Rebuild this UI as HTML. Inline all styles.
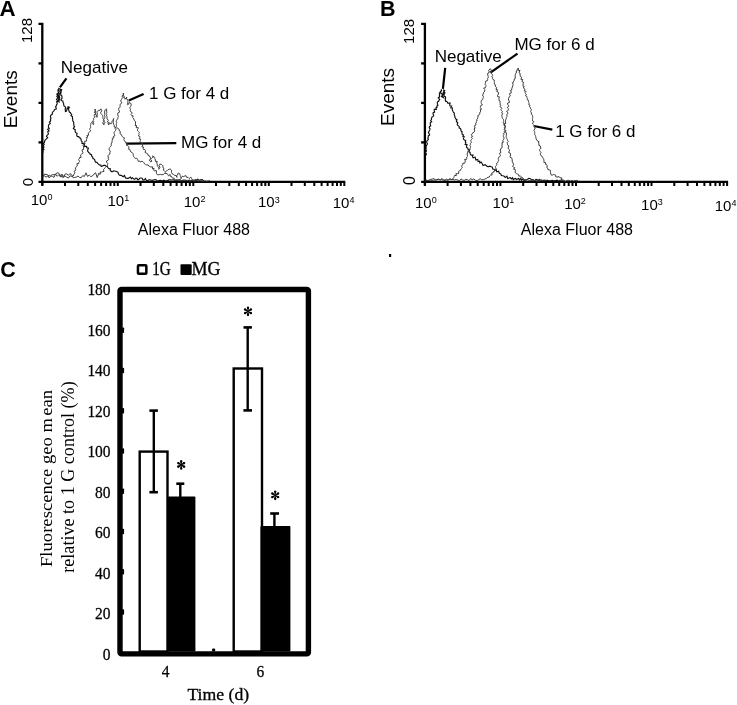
<!DOCTYPE html>
<html><head><meta charset="utf-8"><style>
html,body{margin:0;padding:0;background:#fff;}
body{width:737px;height:705px;overflow:hidden;}
svg{display:block;will-change:transform;}
.ax{stroke:#000;stroke-width:2.3;fill:none;stroke-linecap:butt;}
.tk{stroke:#000;stroke-width:2;fill:none;}
.cv{stroke:#3c3c3c;stroke-width:1;fill:none;stroke-linejoin:miter;}
.ld{stroke:#000;stroke-width:2.2;fill:none;}
text{font-family:"Liberation Sans",sans-serif;fill:#000;}
.tl{font-size:15px;}
.lb{font-size:16px;}
.an{font-size:17px;}
.ev{font-size:19px;}
.pl{font-size:21px;font-weight:bold;}
.sl{font-family:"Liberation Serif",serif;font-size:15.5px;stroke:#000;stroke-width:0.25px;}
.xl{font-family:"Liberation Serif",serif;font-size:17.2px;stroke:#000;stroke-width:0.3px;}
.lg{font-family:"Liberation Serif",serif;font-size:18px;stroke:#000;stroke-width:0.3px;}
.yl{font-family:"Liberation Serif",serif;font-size:18.5px;}
.ast{font-family:"Liberation Serif",serif;font-size:19px;}
</style></head><body>
<svg width="737" height="705" viewBox="0 0 737 705">
<rect width="737" height="705" fill="#fff"/>
<!-- Panel A -->
<text x="-0.4" y="15.9" class="pl" style="font-size:22.3px">A</text>
<text transform="translate(32.3,30.5) rotate(-90)" class="tl" text-anchor="middle">128</text>
<text transform="translate(33.4,182.2) rotate(-90)" class="tl" text-anchor="middle">0</text>
<text transform="translate(17.2,99.3) rotate(-90)" class="ev" text-anchor="middle">Events</text>
<text x="193.9" y="235.1" class="lb" text-anchor="middle">Alexa Fluor 488</text>
<text x="60.8" y="73.3" class="an">Negative</text>
<text x="149" y="98.9" class="an">1 G for 4 d</text>
<text x="181" y="147.8" class="an">MG for 4 d</text>
<path d="M59.9,87.4 L66.4,78.3" class="ld"/>
<path d="M128.8,100.6 L143.6,94" class="ld"/>
<path d="M126,143.6 L176.3,143.1" class="ld"/>
<!-- Panel B -->
<text x="379.9" y="15.9" class="pl" style="font-size:21.5px">B</text>
<text transform="translate(414.3,31.4) rotate(-90)" class="tl" text-anchor="middle">128</text>
<text transform="translate(414.5,180.5) rotate(-90)" class="tl" style="font-size:15.8px" text-anchor="middle">0</text>
<text transform="translate(394.2,97) rotate(-90)" class="ev" text-anchor="middle">Events</text>
<text x="576.9" y="235" class="lb" text-anchor="middle">Alexa Fluor 488</text>
<text x="434.7" y="61.7" class="an">Negative</text>
<text x="514.4" y="49.9" class="an">MG for 6 d</text>
<text x="555.2" y="137.1" class="an">1 G for 6 d</text>
<path d="M445.2,67.8 L442.9,88.8" class="ld"/>
<path d="M490.4,72.6 L517.5,53.6" class="ld"/>
<path d="M533.7,126 L552.3,129.7" class="ld"/>
<rect x="389" y="254" width="2.2" height="3" fill="#000"/>
<path d="M38.5,23.9 H42.3 V185.5" class="ax"/>
<path d="M38.5,63.4 H42.3" class="ax"/>
<path d="M38.5,102.9 H42.3" class="ax"/>
<path d="M38.5,142.4 H42.3" class="ax"/>
<path d="M38.5,181.9 H345.3" class="ax"/>
<path d="M42.3,181.9 V186" class="tk"/>
<path d="M65.0,181.9 V186" class="tk"/>
<path d="M78.3,181.9 V186" class="tk"/>
<path d="M87.8,181.9 V186" class="tk"/>
<path d="M95.1,181.9 V186" class="tk"/>
<path d="M101.1,181.9 V186" class="tk"/>
<path d="M106.1,181.9 V186" class="tk"/>
<path d="M110.5,181.9 V186" class="tk"/>
<path d="M114.3,181.9 V186" class="tk"/>
<path d="M117.8,181.9 V186" class="tk"/>
<path d="M140.5,181.9 V186" class="tk"/>
<path d="M153.8,181.9 V186" class="tk"/>
<path d="M163.3,181.9 V186" class="tk"/>
<path d="M170.6,181.9 V186" class="tk"/>
<path d="M176.6,181.9 V186" class="tk"/>
<path d="M181.6,181.9 V186" class="tk"/>
<path d="M186.0,181.9 V186" class="tk"/>
<path d="M189.8,181.9 V186" class="tk"/>
<path d="M193.3,181.9 V186" class="tk"/>
<path d="M216.0,181.9 V186" class="tk"/>
<path d="M229.3,181.9 V186" class="tk"/>
<path d="M238.8,181.9 V186" class="tk"/>
<path d="M246.1,181.9 V186" class="tk"/>
<path d="M252.1,181.9 V186" class="tk"/>
<path d="M257.1,181.9 V186" class="tk"/>
<path d="M261.5,181.9 V186" class="tk"/>
<path d="M265.3,181.9 V186" class="tk"/>
<path d="M268.8,181.9 V186" class="tk"/>
<path d="M291.5,181.9 V186" class="tk"/>
<path d="M304.8,181.9 V186" class="tk"/>
<path d="M314.3,181.9 V186" class="tk"/>
<path d="M321.6,181.9 V186" class="tk"/>
<path d="M327.6,181.9 V186" class="tk"/>
<path d="M332.6,181.9 V186" class="tk"/>
<path d="M337.0,181.9 V186" class="tk"/>
<path d="M340.8,181.9 V186" class="tk"/>
<path d="M344.3,181.9 V186" class="tk"/>
<path d="M421.1,23.9 H424.9 V185.5" class="ax"/>
<path d="M421.1,63.4 H424.9" class="ax"/>
<path d="M421.1,102.9 H424.9" class="ax"/>
<path d="M421.1,142.4 H424.9" class="ax"/>
<path d="M421.1,181.9 H728.1" class="ax"/>
<path d="M424.9,181.9 V186" class="tk"/>
<path d="M447.6,181.9 V186" class="tk"/>
<path d="M460.9,181.9 V186" class="tk"/>
<path d="M470.4,181.9 V186" class="tk"/>
<path d="M477.7,181.9 V186" class="tk"/>
<path d="M483.7,181.9 V186" class="tk"/>
<path d="M488.7,181.9 V186" class="tk"/>
<path d="M493.1,181.9 V186" class="tk"/>
<path d="M497.0,181.9 V186" class="tk"/>
<path d="M500.4,181.9 V186" class="tk"/>
<path d="M523.2,181.9 V186" class="tk"/>
<path d="M536.5,181.9 V186" class="tk"/>
<path d="M545.9,181.9 V186" class="tk"/>
<path d="M553.3,181.9 V186" class="tk"/>
<path d="M559.2,181.9 V186" class="tk"/>
<path d="M564.3,181.9 V186" class="tk"/>
<path d="M568.7,181.9 V186" class="tk"/>
<path d="M572.5,181.9 V186" class="tk"/>
<path d="M576.0,181.9 V186" class="tk"/>
<path d="M598.7,181.9 V186" class="tk"/>
<path d="M612.0,181.9 V186" class="tk"/>
<path d="M621.5,181.9 V186" class="tk"/>
<path d="M628.8,181.9 V186" class="tk"/>
<path d="M634.8,181.9 V186" class="tk"/>
<path d="M639.8,181.9 V186" class="tk"/>
<path d="M644.2,181.9 V186" class="tk"/>
<path d="M648.1,181.9 V186" class="tk"/>
<path d="M651.5,181.9 V186" class="tk"/>
<path d="M674.3,181.9 V186" class="tk"/>
<path d="M687.6,181.9 V186" class="tk"/>
<path d="M697.0,181.9 V186" class="tk"/>
<path d="M704.4,181.9 V186" class="tk"/>
<path d="M710.3,181.9 V186" class="tk"/>
<path d="M715.4,181.9 V186" class="tk"/>
<path d="M719.8,181.9 V186" class="tk"/>
<path d="M723.6,181.9 V186" class="tk"/>
<path d="M727.1,181.9 V186" class="tk"/>
<text x="41.6" y="205.0" class="tl" text-anchor="middle">10<tspan dy="-4.8" font-size="9px">0</tspan></text>
<text x="118.3" y="205.5" class="tl" text-anchor="middle">10<tspan dy="-4.8" font-size="9px">1</tspan></text>
<text x="194.6" y="206.6" class="tl" text-anchor="middle">10<tspan dy="-4.8" font-size="9px">2</tspan></text>
<text x="268.8" y="207.4" class="tl" text-anchor="middle">10<tspan dy="-4.8" font-size="9px">3</tspan></text>
<text x="343.6" y="207.9" class="tl" text-anchor="middle">10<tspan dy="-4.8" font-size="9px">4</tspan></text>
<text x="425.8" y="207.7" class="tl" text-anchor="middle">10<tspan dy="-4.8" font-size="9px">0</tspan></text>
<text x="503.4" y="208.1" class="tl" text-anchor="middle">10<tspan dy="-4.8" font-size="9px">1</tspan></text>
<text x="575.0" y="208.9" class="tl" text-anchor="middle">10<tspan dy="-4.8" font-size="9px">2</tspan></text>
<text x="651.9" y="210.0" class="tl" text-anchor="middle">10<tspan dy="-4.8" font-size="9px">3</tspan></text>
<text x="725.6" y="210.5" class="tl" text-anchor="middle">10<tspan dy="-4.8" font-size="9px">4</tspan></text>
<path d="M42.8,153.0 L43.0,151.4 L42.8,150.4 L43.9,149.5 L42.9,148.4 L43.9,147.5 L43.7,146.5 L43.3,145.4 L44.2,144.5 L43.5,143.4 L44.4,142.4 L44.9,140.3 L45.9,139.4 L46.7,138.6 L47.7,137.7 L46.5,136.5 L46.8,135.5 L47.8,134.7 L48.5,133.8 L48.0,132.6 L47.8,131.6 L49.1,130.8 L47.6,129.3 L49.3,128.7 L48.5,127.4 L48.4,126.3 L48.6,125.2 L49.2,124.3 L50.3,123.5 L49.4,122.1 L50.3,121.3 L50.7,120.3 L50.4,119.1 L51.0,118.2 L50.4,116.8 L50.6,115.8 L51.2,114.9 L52.3,114.2 L52.3,113.0 L52.6,112.0 L53.5,111.4 L54.1,110.5 L54.6,109.4 L56.2,109.1 L56.2,108.1 L55.5,106.8 L56.3,106.0 L56.4,104.9 L57.2,104.0 L57.2,102.9 L56.5,101.7 L58.0,100.9 L56.5,99.6 L57.1,98.6 L57.9,97.6 L56.8,96.4 L57.6,95.4 L56.8,94.2 L58.1,93.3 L58.4,92.2 L58.1,91.1 L58.8,90.1 L58.6,88.9 L57.9,90.0 L58.1,91.0 L58.2,92.0 L58.5,93.0 L57.9,94.1 L57.7,95.1 L58.7,96.1 L58.4,97.2 L59.6,98.1 L58.4,99.2 L58.6,100.3 L58.0,101.3 L59.6,102.4 L58.7,101.2 L59.1,100.2 L59.7,99.3 L58.6,98.0 L59.6,97.1 L59.2,96.0 L59.2,95.0 L59.3,93.9 L60.8,93.1 L59.7,91.9 L60.0,90.9 L60.5,89.9 L60.1,89.0 L61.7,89.8 L61.1,90.9 L61.1,92.0 L60.5,93.1 L60.8,94.1 L60.8,95.2 L62.0,96.1 L61.9,97.1 L62.1,98.1 L61.2,99.3 L61.2,100.4 L62.9,101.2 L62.9,101.9 L63.2,102.9 L63.7,103.8 L63.7,105.0 L64.0,106.0 L65.1,106.7 L65.7,107.7 L65.1,109.0 L65.4,110.1 L65.4,111.4 L66.6,111.0 L66.8,109.8 L67.1,108.6 L67.9,107.9 L68.0,106.9 L69.4,107.4 L68.2,109.1 L68.8,110.0 L69.0,111.0 L69.4,112.0 L70.5,112.7 L70.8,113.6 L71.7,114.4 L71.0,115.8 L72.3,116.5 L72.5,117.6 L72.5,118.7 L72.8,119.7 L72.7,120.8 L73.4,121.7 L73.7,122.7 L73.7,123.8 L74.0,124.8 L73.8,125.9 L74.6,126.8 L73.3,128.3 L74.0,129.1 L75.2,129.9 L75.2,130.9 L75.2,131.9 L75.9,132.8 L77.0,133.3 L76.7,135.3 L77.2,136.5 L78.8,136.6 L79.3,137.7 L80.6,138.3 L81.1,139.5 L81.2,140.8 L82.1,141.7 L82.0,143.5 L83.7,143.4 L84.6,143.9 L84.0,146.3 L85.4,146.3 L86.6,146.4 L86.8,147.8 L88.4,148.1 L87.9,149.5 L87.5,150.9 L88.2,151.8 L88.9,152.7 L90.0,153.3 L90.1,154.2 L91.5,154.6 L91.7,156.3 L92.7,157.1 L92.9,158.5 L94.2,159.1 L94.7,159.8 L95.2,161.6 L96.0,162.4 L96.9,162.4 L97.7,163.3 L98.5,164.2 L99.3,165.0 L100.8,165.1 L101.2,166.4 L102.4,166.1 L103.7,165.3 L105.2,165.3 L106.2,166.3 L107.3,166.6 L108.2,168.0 L108.8,168.7 L110.2,168.6 L110.2,170.1 L110.9,171.0 L112.0,171.9 L113.5,170.9 L114.7,171.0 L115.8,171.3 L117.1,171.7 L118.0,172.3 L118.5,173.7 L119.1,174.9 L120.0,175.4 L121.3,175.3 L122.2,176.0 L123.1,176.7 L124.5,175.5 L125.1,177.2 L125.9,178.1 L127.1,178.3 L128.2,178.3 L129.3,177.7 L130.5,177.1 L131.4,178.7 L132.6,177.7 L133.6,178.9 L134.6,179.4 L135.8,178.2 L136.8,178.3 L137.8,179.7 L138.9,179.2 L140.0,178.0 L141.1,178.0 L142.2,178.2 L143.1,180.1 L144.2,180.0 L145.4,178.5 L146.3,180.2 L147.4,180.7 L148.5,180.1 L149.6,179.8 L151.0,180.1 L152.6,180.4 L154.2,179.7 L155.8,179.5 L157.4,181.2 L159.0,180.6 L160.6,180.4 L162.2,181.1 L163.8,180.2 L165.4,181.0 L167.0,180.9 L168.6,179.9 L170.2,179.9 L171.8,180.0 L173.4,179.9 L175.0,180.5 L176.6,179.9 L178.2,180.2 L179.8,179.7 L181.4,181.0 L183.0,180.1 L184.6,180.3 L186.2,180.5 L187.8,181.0 L189.4,180.2 L191.0,181.1 L192.6,180.4 L194.2,180.4 L195.8,180.4 L197.4,179.5 L199.0,180.2 L200.6,179.8 L202.2,179.5 L203.8,180.9" class="cv" style="stroke:#111;stroke-width:1.15"/>
<path d="M42.8,174.4 L44.4,175.9 L46.0,177.1 L47.6,176.3 L49.2,175.1 L50.8,176.1 L52.4,176.3 L54.0,177.4 L55.6,174.0 L57.2,176.3 L58.8,174.7 L60.4,174.9 L62.0,177.4 L63.6,176.0 L65.2,176.3 L66.8,177.3 L68.4,178.1 L70.0,175.7 L71.6,176.6 L73.2,176.0 L74.2,173.8 L75.0,172.9 L74.1,171.2 L75.5,170.5 L75.7,169.3 L75.3,167.9 L76.2,167.1 L77.1,166.3 L77.3,165.1 L76.8,163.7 L78.8,163.4 L78.8,162.3 L79.6,161.5 L78.6,159.6 L79.3,158.8 L79.4,157.6 L81.2,157.3 L80.6,155.9 L80.7,154.9 L81.5,154.1 L82.7,153.5 L82.9,152.4 L82.1,151.0 L82.1,149.9 L83.8,149.3 L83.4,148.1 L83.9,147.1 L83.0,145.7 L83.2,144.5 L84.8,144.0 L84.7,142.7 L84.6,141.3 L86.5,141.1 L86.4,139.7 L87.1,138.9 L86.2,137.4 L87.9,137.1 L86.9,135.5 L88.7,135.2 L88.3,133.9 L88.4,132.9 L89.2,132.2 L90.8,130.8 L89.8,129.5 L89.8,128.4 L90.8,127.6 L90.5,126.5 L90.5,125.4 L90.8,124.5 L90.9,123.4 L91.4,122.5 L92.5,121.5 L93.0,122.5 L92.8,124.0 L93.3,124.7 L93.8,123.7 L93.3,122.5 L93.7,121.5 L93.2,120.4 L93.7,119.4 L93.4,118.3 L94.8,117.4 L94.6,116.3 L94.0,115.2 L94.7,114.2 L95.6,113.3 L94.1,112.1 L95.6,111.2 L95.0,110.0 L95.2,109.0 L94.8,110.2 L95.8,111.0 L95.7,112.1 L95.6,113.2 L95.2,114.3 L96.6,115.1 L95.9,116.3 L97.1,117.3 L97.3,116.3 L97.1,115.1 L97.3,114.0 L97.1,112.7 L97.6,111.5 L98.3,110.4 L100.0,110.3 L100.9,108.8 L101.3,109.8 L101.8,110.8 L100.7,112.4 L100.9,113.5 L101.6,114.4 L102.5,115.2 L102.8,116.3 L102.9,117.3 L102.9,118.4 L103.6,119.3 L103.3,120.5 L103.9,121.5 L102.8,122.8 L103.0,123.9 L104.2,124.7 L103.7,123.6 L105.2,122.7 L104.0,121.5 L104.2,120.5 L103.6,119.4 L104.5,118.4 L104.8,117.4 L104.9,116.3 L104.4,115.2 L105.1,114.2 L104.3,113.1 L104.8,112.1 L104.6,111.0 L105.3,110.0 L106.5,108.8 L106.7,109.9 L106.5,111.1 L106.9,112.2 L106.4,113.5 L106.8,114.6 L106.6,115.8 L107.0,116.8 L107.0,117.8 L106.9,118.8 L108.0,119.7 L108.3,120.6 L107.2,121.9 L108.9,122.6 L108.0,123.8 L108.8,125.0 L109.2,123.0 L111.4,123.6 L111.9,122.7 L111.9,121.5 L112.6,120.8 L113.2,119.9 L113.8,118.5 L113.3,119.8 L113.5,120.8 L113.1,122.1 L113.4,123.1 L113.6,124.2 L114.2,125.2 L114.2,127.0 L115.5,127.3 L116.5,128.0 L117.8,128.2 L118.7,128.8 L119.2,129.8 L119.4,131.0 L120.4,131.6 L119.9,133.4 L120.9,134.0 L121.4,135.0 L122.0,135.9 L122.5,136.8 L123.3,137.5 L124.6,137.9 L123.7,139.7 L124.2,140.6 L125.1,141.2 L125.5,142.2 L125.8,143.2 L127.2,143.5 L126.6,145.3 L127.9,145.7 L128.7,146.5 L128.9,147.7 L128.6,149.2 L129.8,149.4 L130.3,151.2 L130.9,152.0 L132.2,152.5 L132.9,153.3 L133.2,154.4 L133.4,155.6 L133.7,156.7 L134.5,157.6 L135.2,158.4 L136.7,158.2 L137.4,159.1 L137.8,159.9 L138.4,161.4 L139.8,161.0 L140.6,162.1 L141.9,161.2 L142.9,161.6 L143.8,162.5 L144.5,163.9 L145.6,164.5 L146.7,165.0 L148.1,164.9 L148.7,166.0 L149.7,166.5 L150.9,167.0 L152.6,166.8 L152.4,168.9 L154.1,168.2 L153.7,170.0 L154.4,170.9 L156.5,170.7 L156.4,172.2 L156.6,173.8 L157.6,174.9 L159.2,174.6 L160.5,174.4 L161.2,174.6 L163.2,174.7 L165.2,172.6 L165.8,173.9 L167.0,173.4 L167.8,174.6 L168.5,175.8 L170.1,174.4 L170.3,176.4 L171.6,176.4 L171.9,177.6 L172.8,178.1 L174.2,178.2 L174.0,180.2 L175.4,179.9 L176.3,180.4 L177.5,180.0 L179.1,180.0 L180.7,180.6 L182.3,180.6 L183.9,180.4 L185.5,180.2 L187.1,180.4 L188.7,180.4 L190.3,181.1 L191.9,180.0 L193.5,181.0 L195.1,181.1 L196.7,180.2 L198.3,181.2 L199.9,180.9" class="cv"/>
<path d="M42.8,177.5 L44.4,174.1 L46.0,174.5 L47.6,174.7 L49.2,178.0 L50.8,175.7 L52.4,174.5 L54.0,174.9 L55.6,174.0 L57.2,172.8 L58.8,173.1 L60.4,177.1 L62.0,174.1 L63.6,177.6 L65.2,173.9 L66.8,174.0 L68.4,175.3 L70.0,173.5 L71.6,174.6 L73.2,177.8 L74.8,177.4 L76.4,177.0 L78.0,176.0 L79.6,177.5 L81.2,177.7 L82.8,175.5 L84.4,176.5 L86.0,172.8 L87.6,176.5 L89.2,175.0 L90.8,176.6 L92.4,176.0 L94.0,174.1 L95.6,172.8 L97.2,177.6 L98.8,173.2 L98.9,173.8 L100.3,174.2 L100.3,171.9 L101.6,172.1 L102.6,171.7 L104.0,171.4 L103.5,169.6 L104.2,168.8 L104.8,167.9 L105.6,167.2 L106.3,166.4 L107.5,165.6 L107.5,164.5 L107.8,163.5 L106.4,162.0 L106.6,161.0 L108.1,160.3 L108.7,159.3 L108.1,158.1 L108.5,157.1 L107.7,155.8 L108.6,155.0 L109.8,154.2 L109.8,153.1 L110.0,152.2 L110.4,151.2 L109.2,149.9 L109.1,148.8 L109.4,147.9 L110.3,147.0 L110.8,146.1 L111.5,145.2 L111.2,144.2 L111.5,143.1 L112.1,142.1 L112.0,140.8 L112.6,139.8 L112.1,138.3 L113.9,137.9 L113.3,136.4 L114.8,135.9 L114.6,134.7 L114.2,133.5 L114.1,132.4 L114.6,131.5 L115.6,130.7 L116.0,129.8 L115.1,128.5 L115.3,127.6 L116.3,126.7 L116.5,125.6 L116.3,124.5 L116.1,123.4 L117.0,122.5 L116.0,121.2 L116.7,120.3 L117.1,119.3 L118.2,118.4 L117.8,117.3 L118.4,116.4 L117.9,115.1 L117.7,113.9 L117.9,112.9 L119.5,112.2 L119.3,111.1 L118.7,109.8 L118.4,108.6 L119.6,107.8 L120.1,106.9 L120.0,105.7 L120.0,104.5 L121.1,103.7 L121.8,102.9 L120.9,101.3 L120.8,100.1 L121.7,99.3 L122.0,98.3 L122.7,97.4 L121.9,96.1 L123.2,95.3 L123.3,94.2 L123.0,93.1 L123.9,93.9 L122.8,95.5 L124.3,96.1 L123.7,97.5 L125.2,98.2 L124.6,99.0 L126.2,98.6 L126.9,97.0 L125.9,98.4 L127.0,99.1 L127.8,100.0 L128.0,101.1 L127.8,102.2 L127.6,103.3 L127.3,104.5 L127.8,104.9 L128.7,104.2 L128.9,103.0 L129.0,102.5 L130.7,103.2 L131.1,104.1 L131.2,105.1 L130.7,106.3 L129.9,107.4 L130.1,108.4 L130.5,109.4 L130.2,110.5 L130.4,111.5 L131.7,112.2 L132.1,113.2 L130.9,114.7 L131.6,115.5 L133.3,115.9 L132.5,117.4 L133.4,118.1 L133.8,119.1 L134.2,120.1 L134.9,120.9 L135.6,121.8 L135.4,123.0 L135.7,124.1 L135.0,125.6 L136.7,125.6 L136.2,127.7 L138.2,127.6 L138.1,128.6 L137.4,129.8 L137.6,130.8 L138.5,131.6 L139.4,132.5 L138.8,133.6 L139.2,134.6 L138.3,135.8 L139.9,136.5 L139.8,137.6 L139.0,138.8 L140.7,139.2 L140.4,140.5 L140.1,141.8 L140.5,142.8 L142.2,143.1 L142.6,144.1 L142.8,145.0 L141.9,146.9 L143.5,147.0 L143.2,148.4 L143.4,149.5 L144.9,149.7 L145.5,150.5 L145.1,152.5 L146.4,153.1 L147.6,153.6 L148.0,155.4 L149.6,156.0 L150.0,157.1 L150.8,158.1 L149.7,159.7 L149.6,160.9 L150.9,161.9 L151.9,161.2 L150.6,159.3 L151.4,158.5 L152.3,157.6 L153.5,157.0 L152.3,156.1 L153.9,156.5 L154.7,157.5 L154.9,158.7 L155.4,159.9 L155.3,161.4 L157.2,161.4 L156.7,163.0 L157.2,164.1 L157.3,165.2 L157.7,166.3 L158.4,167.3 L159.2,168.2 L158.9,169.3 L159.1,168.2 L160.1,167.2 L159.0,165.8 L159.4,164.7 L159.8,164.1 L161.3,164.3 L162.3,165.0 L163.0,165.9 L162.9,167.6 L163.9,168.2 L163.5,170.1 L164.7,171.3 L165.6,171.8 L167.0,170.5 L167.2,170.7 L168.0,169.7 L169.4,169.4 L169.8,168.7 L170.7,169.4 L171.4,170.1 L171.5,171.2 L171.5,172.4 L172.0,173.6 L173.1,174.2 L173.8,174.7 L174.8,175.4 L176.3,175.6 L176.9,177.4 L176.6,175.7 L177.6,175.0 L177.9,173.7 L178.3,173.0 L179.6,173.6 L179.9,174.7 L180.3,175.7 L180.8,176.7 L181.0,178.7 L181.5,177.6 L182.1,176.5 L183.0,176.0 L183.6,176.7 L184.9,175.9 L186.0,175.7 L186.6,177.3 L188.1,177.4 L189.2,178.6 L190.9,177.1 L191.5,178.4 L192.2,179.6 L193.2,180.2 L194.1,180.7 L195.6,179.0 L196.2,179.9 L197.2,179.3 L198.4,179.2 L199.0,180.6 L201.0,180.8 L202.0,181.0 L203.6,181.2 L205.2,180.8 L206.8,181.2 L208.4,180.9 L210.0,180.7" class="cv"/>
<path d="M425.3,156.0 L426.0,155.0 L426.5,154.0 L425.1,152.6 L426.2,151.6 L426.4,150.6 L425.8,149.5 L426.2,148.6 L425.9,147.5 L426.2,146.5 L426.4,145.5 L427.2,144.6 L427.4,143.7 L426.7,142.4 L426.7,141.2 L427.5,140.3 L428.4,139.4 L427.8,138.0 L428.3,137.0 L428.3,135.9 L429.6,135.1 L429.3,134.0 L428.5,132.8 L428.7,131.8 L429.4,130.8 L429.8,129.9 L430.1,128.9 L429.2,127.7 L429.5,126.7 L430.7,125.8 L430.3,124.7 L430.2,123.6 L430.4,122.6 L431.7,121.8 L430.7,120.5 L431.5,119.5 L431.5,118.3 L431.9,117.2 L433.1,116.4 L433.7,115.5 L433.0,113.8 L433.2,112.6 L434.6,112.1 L434.2,110.5 L434.3,109.3 L436.3,109.3 L435.9,107.9 L437.1,107.3 L436.7,106.0 L437.9,105.4 L437.5,104.1 L437.3,103.0 L437.4,102.1 L438.6,101.3 L439.0,100.3 L439.7,99.3 L438.3,97.9 L439.5,97.1 L439.3,95.9 L439.7,94.9 L439.3,93.7 L439.7,92.7 L440.4,91.7 L441.4,90.9 L441.5,89.4 L441.1,90.7 L440.7,92.0 L440.7,93.2 L442.3,93.9 L442.7,95.0 L441.4,96.5 L443.4,97.6 L442.7,96.3 L442.1,95.0 L443.9,94.2 L443.1,92.9 L444.3,92.0 L443.9,90.8 L443.3,89.7 L444.7,90.6 L443.6,91.8 L444.9,92.7 L444.6,93.8 L443.9,95.0 L444.1,96.1 L445.5,96.9 L445.6,98.0 L445.4,99.1 L445.3,100.2 L445.7,101.2 L445.3,101.5 L446.4,101.3 L447.2,101.9 L447.8,103.1 L450.1,103.0 L449.7,104.5 L449.9,105.7 L451.6,105.9 L450.7,107.8 L452.5,108.0 L452.2,109.7 L452.8,110.9 L453.3,112.1 L454.2,112.9 L454.3,114.0 L454.3,115.2 L454.9,116.1 L454.8,117.3 L455.5,118.2 L455.9,119.1 L457.0,119.7 L456.3,121.2 L456.9,122.0 L457.8,122.8 L457.2,124.2 L457.5,125.2 L458.5,125.9 L459.3,126.7 L459.1,127.9 L460.4,128.5 L460.9,129.5 L461.0,130.9 L462.1,131.7 L461.9,133.1 L462.2,134.2 L463.5,134.9 L462.8,136.4 L464.2,136.8 L463.4,138.3 L463.6,139.3 L464.5,140.0 L465.7,140.6 L465.3,142.0 L465.9,142.9 L465.2,144.4 L467.0,144.6 L466.4,146.4 L466.8,147.6 L467.8,148.2 L468.1,149.4 L469.7,149.9 L468.8,151.8 L470.1,152.4 L470.3,154.2 L471.2,155.1 L473.0,155.0 L472.6,156.7 L473.1,157.9 L475.1,157.2 L475.5,158.5 L475.9,160.0 L477.7,159.5 L478.1,161.6 L479.7,161.2 L479.8,162.9 L481.4,162.3 L482.2,163.8 L483.1,165.5 L485.0,164.7 L486.2,165.5 L487.2,166.5 L488.5,166.6 L489.9,166.2 L491.2,166.8 L492.3,167.1 L492.8,169.0 L494.0,169.3 L494.6,170.5 L496.3,169.8 L496.8,171.8 L498.7,171.2 L499.0,172.7 L499.6,173.5 L500.7,173.7 L501.4,175.5 L503.0,175.7 L504.2,176.2 L505.2,177.4 L506.9,176.1 L507.7,178.5 L509.1,178.0 L510.4,177.7 L511.3,178.9 L512.5,177.8 L513.3,179.7 L514.4,178.8 L515.5,178.5 L516.4,179.6 L517.5,179.0 L518.6,178.5 L519.5,179.9 L520.7,178.4 L521.5,180.3 L522.6,179.1 L523.6,180.0 L524.6,180.8 L525.6,179.9 L526.7,180.0 L527.7,179.2 L528.7,178.4 L529.8,178.5 L530.8,178.9 L531.7,180.1 L532.8,179.7 L533.8,180.0 L534.8,181.0 L535.9,179.3 L537.0,179.6 L537.9,180.8 L539.1,179.4 L540.0,180.6 L541.0,180.0 L542.6,180.5 L544.2,180.1 L545.8,180.5 L547.4,180.3 L549.0,180.8 L550.6,180.8 L552.2,180.3 L553.8,180.8 L555.4,180.6 L557.0,180.2 L558.6,181.2 L560.2,180.3 L561.8,180.2 L563.4,180.1" class="cv" style="stroke:#111;stroke-width:1.15"/>
<path d="M425.8,180.0 L427.4,180.5 L429.0,180.3 L430.6,179.4 L432.2,179.1 L433.8,178.5 L435.4,180.0 L437.0,179.8 L438.6,179.3 L440.2,180.0 L441.8,179.5 L443.4,180.7 L445.0,180.2 L446.6,179.1 L448.2,180.6 L449.8,178.6 L451.4,179.7 L453.3,178.5 L453.8,177.5 L454.2,176.5 L454.6,175.4 L456.4,175.6 L455.9,173.6 L457.5,173.7 L458.8,173.5 L458.6,171.3 L459.4,170.8 L460.5,170.3 L460.8,169.3 L461.5,168.5 L462.3,167.7 L461.6,166.1 L462.3,165.3 L462.8,164.4 L462.8,163.2 L464.7,163.2 L465.0,162.1 L465.4,161.1 L464.6,159.4 L466.5,159.4 L466.8,158.3 L466.7,157.1 L467.5,156.3 L467.3,155.1 L467.2,154.0 L467.3,152.9 L467.9,152.0 L467.9,150.9 L468.7,150.1 L469.8,149.5 L470.1,148.4 L470.5,147.5 L470.5,146.4 L469.8,145.2 L470.5,144.3 L470.5,143.3 L471.4,142.4 L471.0,141.3 L470.7,140.2 L471.6,139.4 L472.4,138.5 L471.2,137.2 L472.6,136.5 L471.3,134.8 L472.2,133.9 L472.7,132.8 L474.2,132.1 L474.7,131.2 L474.6,130.1 L474.0,128.8 L475.3,128.1 L474.4,126.8 L474.5,125.7 L476.0,125.0 L475.6,123.9 L476.1,122.9 L476.3,121.9 L477.2,121.1 L476.5,119.7 L477.5,119.0 L477.6,117.9 L478.2,117.0 L477.7,115.6 L478.9,115.2 L479.6,114.2 L479.9,113.1 L479.9,112.0 L480.9,111.1 L480.0,109.9 L481.7,109.1 L480.4,107.8 L480.4,106.7 L480.7,105.6 L482.4,104.9 L481.4,103.6 L481.2,102.5 L481.2,101.3 L481.4,100.3 L482.8,99.5 L482.9,98.4 L483.2,97.3 L483.4,96.3 L482.3,95.0 L483.5,94.1 L483.2,92.9 L484.3,92.0 L484.6,90.8 L484.9,89.7 L483.6,88.1 L485.4,87.7 L485.8,86.7 L486.1,85.7 L484.9,84.2 L485.4,83.3 L485.5,82.2 L485.6,81.2 L487.4,80.7 L487.7,79.7 L487.6,78.5 L488.2,77.6 L488.2,76.4 L487.8,75.1 L487.7,74.0 L488.0,72.9 L489.5,72.2 L488.7,70.8 L489.2,69.9 L489.9,68.8 L491.2,69.6 L491.4,71.0 L491.9,72.3 L491.4,73.5 L492.3,74.4 L492.6,75.3 L491.7,76.7 L492.8,77.5 L492.4,78.7 L493.1,79.6 L494.5,80.2 L494.2,81.6 L494.5,82.6 L494.2,84.0 L495.4,84.7 L495.1,86.0 L495.8,86.9 L496.7,87.8 L495.9,89.3 L497.7,89.9 L496.5,91.3 L498.0,91.9 L498.6,92.9 L498.4,94.0 L497.6,95.3 L497.5,96.5 L499.5,96.9 L498.9,98.2 L499.1,99.2 L498.8,100.4 L500.2,101.1 L499.9,102.3 L500.4,103.2 L499.8,104.4 L501.0,105.3 L499.9,106.6 L501.3,107.4 L501.7,108.5 L500.9,109.7 L501.5,110.7 L502.4,111.6 L501.6,112.9 L502.8,113.8 L501.7,115.1 L502.1,116.2 L502.1,117.3 L502.6,118.4 L503.4,119.3 L503.5,120.5 L503.7,121.5 L503.0,122.9 L504.8,123.6 L503.5,125.0 L505.4,125.6 L505.3,126.7 L505.4,127.7 L504.5,129.1 L505.5,129.9 L505.9,130.9 L505.2,132.1 L506.6,132.9 L506.3,134.1 L506.4,135.2 L506.1,136.4 L506.3,137.4 L506.7,138.4 L507.4,139.4 L507.6,140.5 L508.2,141.5 L507.0,142.8 L507.6,143.8 L507.6,144.9 L508.8,145.7 L508.5,146.9 L508.1,148.1 L508.6,149.1 L509.6,149.9 L509.2,151.1 L508.6,152.5 L510.1,153.0 L510.5,154.0 L510.6,155.0 L510.1,156.3 L510.2,157.4 L511.7,157.9 L512.0,158.9 L512.2,159.9 L512.3,161.0 L512.2,162.1 L513.2,162.8 L513.2,163.9 L513.7,164.8 L512.6,166.3 L513.3,167.1 L514.8,167.7 L513.5,169.2 L515.2,169.4 L515.4,170.6 L515.0,172.3 L515.9,172.9 L516.6,173.7 L517.7,174.2 L518.6,174.6 L518.9,176.2 L520.4,175.9 L521.2,176.8 L521.9,177.9 L522.7,177.7 L523.7,178.7 L524.6,179.8 L525.7,179.8 L526.8,179.5 L527.9,179.7 L529.0,180.8 L530.6,180.6 L532.2,180.2 L533.8,180.8 L535.4,180.5 L537.0,181.0 L538.6,181.2 L540.2,180.6 L541.8,180.7 L543.4,181.0 L545.0,180.5 L546.6,180.3" class="cv"/>
<path d="M425.8,180.2 L427.4,180.5 L429.0,180.3 L430.6,180.1 L432.2,180.5 L433.8,180.1 L435.4,180.0 L437.0,179.5 L438.6,179.2 L440.2,179.9 L441.8,178.7 L443.4,179.5 L445.0,180.3 L446.6,180.1 L448.2,179.9 L449.8,179.1 L451.4,179.5 L453.0,179.5 L454.6,179.9 L456.2,179.4 L457.8,180.1 L459.4,180.6 L461.0,178.9 L462.6,180.0 L464.2,180.3 L465.8,179.4 L467.4,179.6 L469.0,180.7 L470.6,178.6 L472.2,179.7 L473.8,178.9 L475.4,180.3 L477.0,180.7 L478.6,179.7 L480.2,178.7 L481.8,179.8 L483.4,179.7 L485.3,178.8 L486.4,178.6 L487.1,177.6 L488.1,177.3 L489.3,177.1 L489.8,175.8 L490.6,175.1 L492.1,175.0 L491.7,173.0 L493.2,172.8 L493.5,171.5 L494.8,171.2 L494.4,169.6 L496.4,169.3 L495.6,167.7 L495.5,166.5 L496.2,165.7 L496.8,164.7 L496.5,163.4 L497.6,162.8 L497.9,161.7 L498.7,160.8 L498.3,159.5 L498.4,158.4 L498.6,157.3 L499.8,156.6 L500.4,155.6 L499.9,154.3 L499.6,153.1 L501.0,152.4 L500.4,151.1 L500.3,150.0 L500.4,148.9 L501.8,148.2 L502.1,147.2 L502.0,146.1 L501.9,145.0 L502.3,144.0 L501.9,142.8 L503.5,142.1 L502.6,140.8 L503.4,139.8 L503.9,138.9 L504.0,137.8 L503.5,136.7 L503.3,135.6 L503.9,134.6 L503.3,133.5 L504.8,132.7 L504.0,131.5 L505.1,130.6 L504.2,129.4 L504.5,128.4 L504.4,127.3 L504.9,126.3 L504.6,125.1 L504.5,124.0 L506.0,123.2 L505.3,122.0 L505.4,120.9 L505.7,119.8 L506.2,118.8 L506.3,117.7 L506.9,116.7 L507.1,115.7 L506.6,114.6 L507.9,113.7 L507.9,112.7 L506.5,111.4 L508.1,110.6 L508.4,109.6 L508.3,108.5 L507.3,107.3 L508.7,106.5 L508.5,105.4 L507.5,104.1 L507.7,103.0 L509.6,102.4 L509.2,101.2 L508.6,100.0 L508.5,98.8 L508.8,97.8 L509.2,96.8 L510.4,95.9 L509.7,94.7 L509.6,93.5 L511.2,93.0 L511.2,91.9 L510.3,90.6 L511.9,90.0 L511.6,88.9 L512.1,88.0 L512.2,87.0 L512.8,86.1 L512.9,85.1 L513.2,84.2 L512.3,82.7 L513.5,82.2 L513.6,81.0 L514.4,80.2 L514.2,78.9 L515.4,78.3 L515.2,77.0 L515.1,75.8 L515.4,74.8 L515.5,73.7 L516.5,73.0 L516.0,71.7 L517.1,71.0 L516.9,69.7 L517.8,69.0 L518.2,68.0 L518.5,69.0 L518.2,70.3 L520.1,70.6 L518.9,72.3 L519.9,73.0 L520.0,74.0 L520.2,75.1 L520.2,76.2 L521.3,76.9 L521.5,77.9 L520.9,79.3 L522.8,79.6 L522.0,81.0 L522.4,82.0 L523.8,82.5 L523.0,83.9 L523.2,84.9 L522.9,86.0 L524.3,86.6 L523.3,88.0 L524.5,88.7 L524.8,89.7 L524.2,90.9 L526.1,91.3 L525.1,92.7 L525.5,93.6 L526.3,94.4 L525.5,95.8 L526.8,96.4 L527.0,97.5 L527.3,98.6 L527.2,99.8 L528.6,100.3 L528.5,101.5 L528.9,102.5 L529.0,103.6 L528.8,104.8 L530.1,105.4 L529.4,106.7 L530.5,107.4 L530.6,108.5 L531.3,109.3 L531.2,110.4 L530.6,111.6 L531.4,112.8 L531.3,114.1 L532.4,115.2 L532.6,116.3 L532.8,117.4 L532.4,118.5 L532.5,119.6 L532.4,120.8 L533.9,121.6 L532.8,122.9 L532.6,124.0 L533.5,124.9 L534.5,125.8 L534.3,127.0 L535.1,127.9 L534.9,129.0 L533.8,130.4 L534.6,131.4 L534.7,132.4 L534.7,133.6 L534.7,134.7 L535.5,135.6 L535.7,136.6 L535.9,137.7 L536.1,139.0 L536.9,139.9 L537.5,141.1 L539.0,141.7 L538.5,143.1 L539.1,144.0 L538.8,145.3 L540.3,145.9 L540.4,147.0 L541.0,148.1 L539.7,149.5 L539.6,150.6 L540.3,151.5 L541.0,152.5 L540.3,153.7 L540.5,154.7 L541.1,155.8 L542.1,156.3 L542.6,157.2 L542.9,158.2 L543.6,158.9 L543.9,159.9 L544.0,161.2 L543.9,162.5 L545.9,162.8 L545.4,164.3 L546.7,164.7 L547.2,165.7 L546.8,167.6 L547.8,168.2 L547.9,169.5 L549.2,169.9 L550.5,170.3 L550.4,171.7 L550.6,172.9 L551.0,174.8 L552.1,175.3 L553.4,174.5 L554.6,174.8 L555.7,175.1 L555.6,176.7 L556.9,176.9 L557.0,177.3 L558.0,176.8 L559.1,176.6 L560.1,177.9 L561.7,177.8 L561.5,180.1 L563.0,180.2 L564.0,180.4 L565.6,181.2 L567.2,180.4 L568.8,180.3 L570.4,181.0 L572.0,180.5 L573.6,181.0 L575.2,180.5 L576.8,180.4 L578.4,181.1" class="cv"/>
<!-- Panel C -->
<text x="0.2" y="276.8" class="pl" style="font-size:21.5px">C</text>
<rect x="120" y="289.5" width="188.4" height="364.4" rx="1.5" fill="none" stroke="#000" stroke-width="5.4"/>
<text transform="translate(110.6,659.70) scale(1,1.120)" class="sl" text-anchor="end">0</text>
<text transform="translate(110.6,619.20) scale(1,1.120)" class="sl" text-anchor="end">20</text>
<rect x="122" y="609.2" width="2.1" height="5.6" rx="0.8" fill="#000"/>
<text transform="translate(110.6,578.70) scale(1,1.120)" class="sl" text-anchor="end">40</text>
<rect x="122" y="568.9" width="2.1" height="5.6" rx="0.8" fill="#000"/>
<text transform="translate(110.6,538.20) scale(1,1.120)" class="sl" text-anchor="end">60</text>
<rect x="122" y="528.7" width="2.1" height="5.6" rx="0.8" fill="#000"/>
<text transform="translate(110.6,497.70) scale(1,1.120)" class="sl" text-anchor="end">80</text>
<rect x="122" y="488.4" width="2.1" height="5.6" rx="0.8" fill="#000"/>
<text transform="translate(110.6,457.20) scale(1,1.120)" class="sl" text-anchor="end">100</text>
<rect x="122" y="448.2" width="2.1" height="5.6" rx="0.8" fill="#000"/>
<text transform="translate(110.6,416.70) scale(1,1.120)" class="sl" text-anchor="end">120</text>
<rect x="122" y="408.0" width="2.1" height="5.6" rx="0.8" fill="#000"/>
<text transform="translate(110.6,376.20) scale(1,1.120)" class="sl" text-anchor="end">140</text>
<rect x="122" y="367.7" width="2.1" height="5.6" rx="0.8" fill="#000"/>
<text transform="translate(110.6,335.70) scale(1,1.120)" class="sl" text-anchor="end">160</text>
<rect x="122" y="327.5" width="2.1" height="5.6" rx="0.8" fill="#000"/>
<text transform="translate(110.6,295.20) scale(1,1.120)" class="sl" text-anchor="end">180</text>
<rect x="139.7" y="451.6" width="27.8" height="199.9" fill="#fff" stroke="#000" stroke-width="2.4"/>
<rect x="167.5" y="496.6" width="27.9" height="154.9" rx="0.8" fill="#000"/>
<rect x="233.7" y="368.5" width="28.3" height="283.0" fill="#fff" stroke="#000" stroke-width="2.4"/>
<rect x="260.4" y="526.1" width="30.0" height="125.4" rx="0.8" fill="#000"/>
<path d="M153.8,410.6 V492.2" stroke="#000" stroke-width="2.4"/><path d="M149.4,410.6 H157.9" stroke="#000" stroke-width="2.6"/><path d="M149.4,492.2 H157.9" stroke="#000" stroke-width="2.6"/>
<path d="M180.3,483.7 V497.0" stroke="#000" stroke-width="2.4"/><path d="M176.3,483.7 H184.3" stroke="#000" stroke-width="2.6"/>
<path d="M247.7,327.4 V410.4" stroke="#000" stroke-width="2.4"/><path d="M243.5,327.4 H251.9" stroke="#000" stroke-width="2.6"/><path d="M243.4,410.4 H252.0" stroke="#000" stroke-width="2.6"/>
<path d="M274.4,513.5 V527.0" stroke="#000" stroke-width="2.4"/><path d="M270.2,513.5 H279.0" stroke="#000" stroke-width="2.6"/>
<g fill="#000"><path d="M180.85,464.90 L180.05,461.17 L182.35,461.17 L181.55,464.90 Z"/><circle cx="181.20" cy="461.17" r="1.15"/><path d="M181.55,464.90 L182.35,468.63 L180.05,468.63 L180.85,464.90 Z"/><circle cx="181.20" cy="468.63" r="1.15"/><path d="M181.02,464.60 L183.61,462.04 L184.76,464.03 L181.38,465.20 Z"/><circle cx="184.19" cy="463.04" r="1.15"/><path d="M181.38,464.60 L184.76,465.77 L183.61,467.76 L181.02,465.20 Z"/><circle cx="184.19" cy="466.76" r="1.15"/><path d="M181.02,465.20 L177.64,464.03 L178.79,462.04 L181.38,464.60 Z"/><circle cx="178.21" cy="463.04" r="1.15"/><path d="M181.38,465.20 L178.79,467.76 L177.64,465.77 L181.02,464.60 Z"/><circle cx="178.21" cy="466.76" r="1.15"/></g>
<g fill="#000"><path d="M247.65,311.30 L246.85,307.57 L249.15,307.57 L248.35,311.30 Z"/><circle cx="248.00" cy="307.57" r="1.15"/><path d="M248.35,311.30 L249.15,315.03 L246.85,315.03 L247.65,311.30 Z"/><circle cx="248.00" cy="315.03" r="1.15"/><path d="M247.82,311.00 L250.41,308.44 L251.56,310.43 L248.18,311.60 Z"/><circle cx="250.99" cy="309.44" r="1.15"/><path d="M248.18,311.00 L251.56,312.17 L250.41,314.16 L247.82,311.60 Z"/><circle cx="250.99" cy="313.16" r="1.15"/><path d="M247.82,311.60 L244.44,310.43 L245.59,308.44 L248.18,311.00 Z"/><circle cx="245.01" cy="309.44" r="1.15"/><path d="M248.18,311.60 L245.59,314.16 L244.44,312.17 L247.82,311.00 Z"/><circle cx="245.01" cy="313.16" r="1.15"/></g>
<g fill="#000"><path d="M274.85,495.30 L274.05,491.57 L276.35,491.57 L275.55,495.30 Z"/><circle cx="275.20" cy="491.57" r="1.15"/><path d="M275.55,495.30 L276.35,499.03 L274.05,499.03 L274.85,495.30 Z"/><circle cx="275.20" cy="499.03" r="1.15"/><path d="M275.02,495.00 L277.61,492.44 L278.76,494.43 L275.38,495.60 Z"/><circle cx="278.19" cy="493.44" r="1.15"/><path d="M275.38,495.00 L278.76,496.17 L277.61,498.16 L275.02,495.60 Z"/><circle cx="278.19" cy="497.16" r="1.15"/><path d="M275.02,495.60 L271.64,494.43 L272.79,492.44 L275.38,495.00 Z"/><circle cx="272.21" cy="493.44" r="1.15"/><path d="M275.38,495.60 L272.79,498.16 L271.64,496.17 L275.02,495.00 Z"/><circle cx="272.21" cy="497.16" r="1.15"/></g>
<rect x="212" y="648.6" width="3.2" height="3" rx="1" fill="#000"/>
<text transform="translate(165.6,676.5) scale(1,1.120)" class="sl" text-anchor="middle">4</text>
<text transform="translate(260.3,676.5) scale(1,1.120)" class="sl" text-anchor="middle">6</text>
<text transform="translate(218.3,699.6) scale(1.03,1)" class="xl" text-anchor="middle">Time (d)</text>
<rect x="137.95" y="265.35" width="8.4" height="8.4" rx="0.8" fill="#fff" stroke="#000" stroke-width="2.5"/>
<text x="152.2" y="274.9" class="lg" textLength="18.6" lengthAdjust="spacingAndGlyphs">1G</text>
<rect x="180.5" y="264.2" width="11.2" height="10.9" rx="1" fill="#000"/>
<text x="191.4" y="274.9" class="lg">MG</text>
<text transform="translate(52.0,478.5) rotate(-90)" class="yl" style="font-size:17.2px" text-anchor="middle" textLength="177" lengthAdjust="spacingAndGlyphs">Fluorescence geo m<tspan dx="2">ean</tspan></text>
<text transform="translate(74.4,477) rotate(-90)" class="yl" style="font-size:18.1px" text-anchor="middle">relative to 1 G control (%)</text>
</svg>
</body></html>
